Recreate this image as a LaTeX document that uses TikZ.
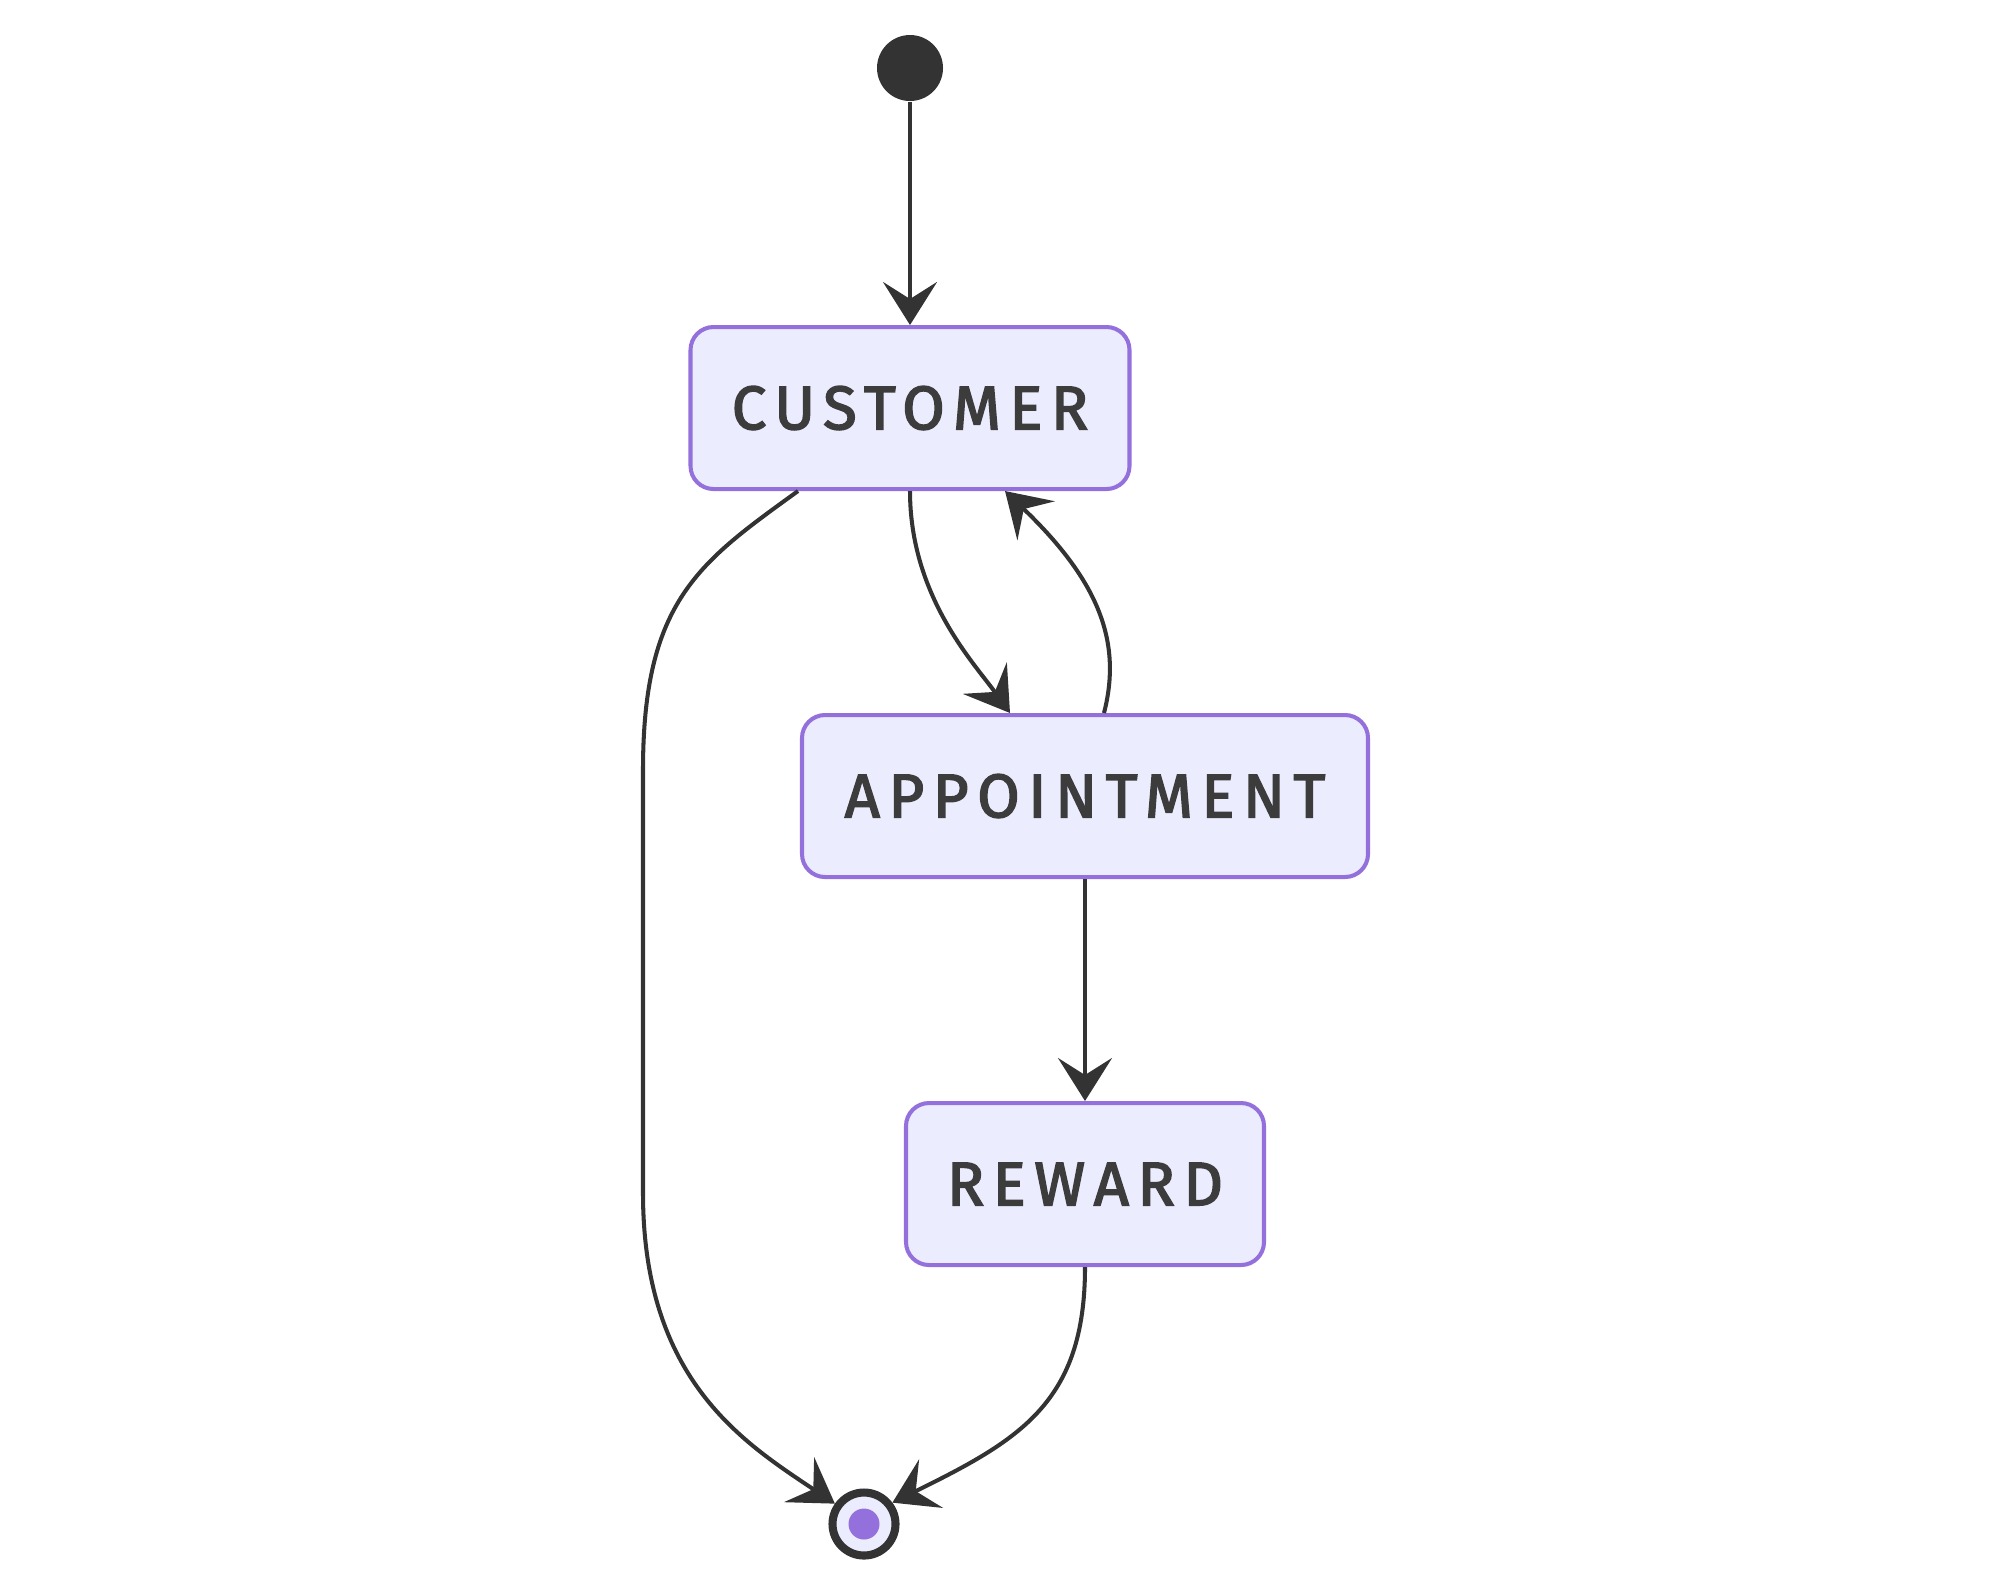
\documentclass[tikz,border=0pt]{standalone}
\usepackage{fontspec}
\usepackage{tikz}
\usetikzlibrary{calc,arrows.meta,shapes.geometric}
\newfontfamily\statefont[LetterSpace=14,FakeBold=2.6]{Fira Sans}
\definecolor{boxfill}{HTML}{ECECFF}
\definecolor{boxline}{HTML}{9370DB}
\definecolor{linegray}{HTML}{333333}
\definecolor{textgray}{HTML}{3C3C3C}
\tikzstyle{statebox} = [rectangle, draw=boxline, fill=boxfill, line width=1.15pt, rounded corners=0.23cm, text=textgray, text centered, minimum height=1.62cm, font=\statefont\fontsize{17.5}{20}\selectfont]
\tikzstyle{startpoint} = [circle, fill=linegray, minimum size=0.66cm, inner sep=0pt]
\tikzstyle{endpoint} = [circle, draw=linegray, line width=2.3pt, fill=boxfill, minimum size=0.63cm, inner sep=0pt]
\tikzstyle{connector} = [line width=1.15pt, draw=linegray, -{Stealth[length=4.3mm, width=5.4mm, inset=1.7mm]}]

\begin{document}
\begin{tikzpicture}
        \useasboundingbox (0,0) rectangle (20.12,-15.92);
        \node (start) [startpoint] at (9.10,-0.68) {};
        \node (cust) [statebox, below of = start, yshift=-2.4cm, minimum width=4.39cm] {CUSTOMER};
        \node (appt) [statebox, below of = cust, yshift=-2.88cm, xshift=1.75cm, minimum width=5.66cm] {APPOINTMENT};
        \node (reward) [statebox, below of = appt, yshift=-2.88cm, minimum width=3.58cm] {REWARD};
        \node (end) [endpoint, below of = reward, yshift=-2.4cm, xshift=-2.21cm] {};
        \fill [boxline] (end.center) circle (0.155cm);
        \draw [connector] (start) -- (cust);
        \draw [connector] (cust.south) .. controls +(0,-1.05) and +(-0.36,0.5) .. ([xshift=-0.75cm]appt.north);
        \draw [connector] ([xshift=0.19cm]appt.north) .. controls +(0.18,0.70) and +(0.95,-0.91) .. ([xshift=0.95cm]cust.south);
        \draw [connector] ([xshift=-1.12cm]cust.south) .. controls +(-0.98,-0.71) and +(0,1.70) .. (6.43,-7.70) -- ++(0,-4.23) .. controls +(0,-1.87) and +(-0.91,0.61) .. (end.145);
        \draw [connector] (appt) -- (reward);
        \draw [connector] (reward.south) .. controls +(0,-1.35) and +(1.28,0.63) .. (end.37);
    \end{tikzpicture}
\end{document}
